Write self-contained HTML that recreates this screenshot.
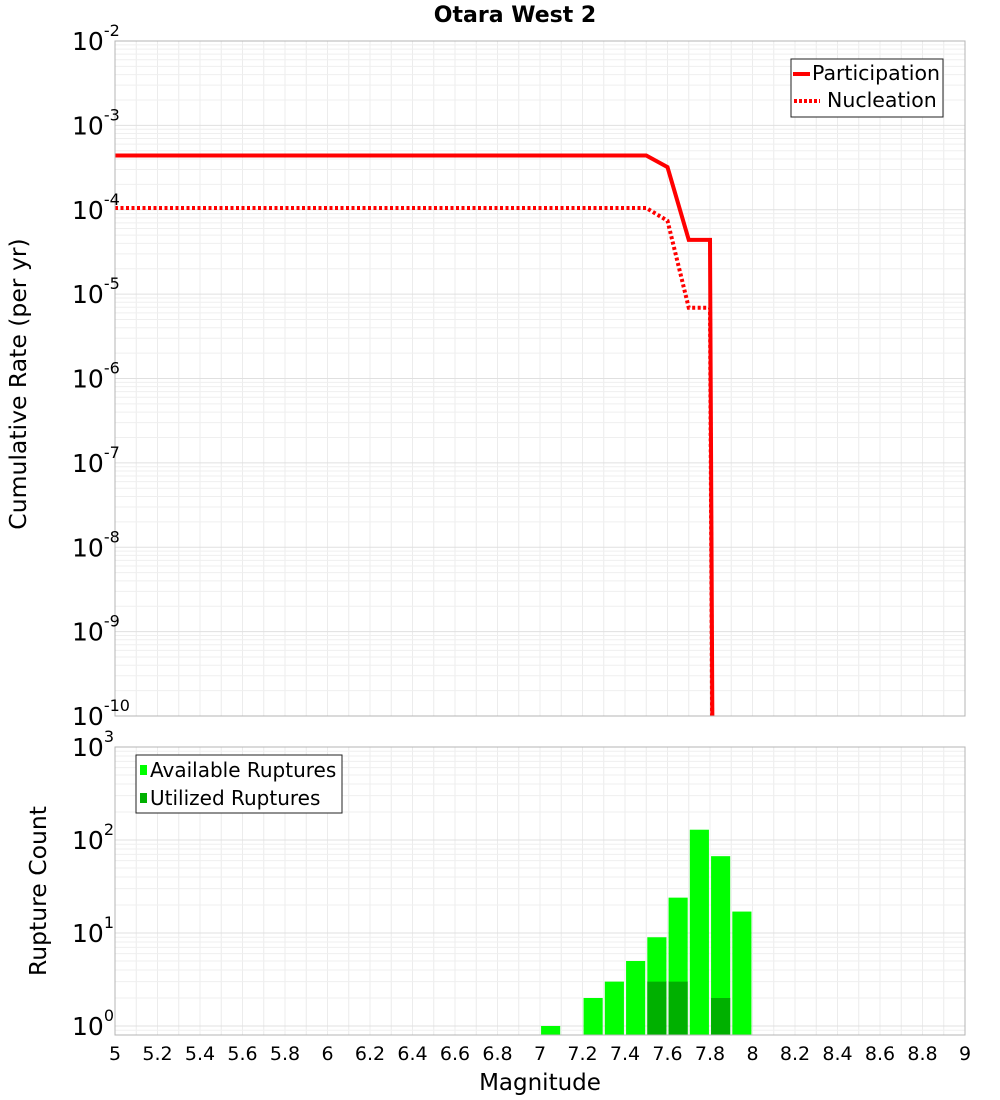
<!DOCTYPE html>
<html><head><meta charset="utf-8"><style>
html,body{margin:0;padding:0;background:#fff;}
svg{display:block;font-family:"DejaVu Sans","Liberation Sans",sans-serif;}
</style></head><body>
<svg id="chart" width="1000" height="1100" xmlns="http://www.w3.org/2000/svg">
<text x="515" y="22" text-anchor="middle" font-size="22" font-weight="bold">Otara West 2</text>
<g id="top-grid"></g>
<g id="bot-grid"></g>
<g id="top-series"></g>
<g id="bot-bars"></g>
<rect x="115" y="41" width="850" height="675" fill="none" stroke="#b4b4b4" stroke-width="1"/>
<rect x="115" y="747" width="850" height="288" fill="none" stroke="#b4b4b4" stroke-width="1"/>
<g id="axes-labels"></g>
<text transform="translate(26,384) rotate(-90)" text-anchor="middle" font-size="23.5">Cumulative Rate (per yr)</text>
<text transform="translate(46,891) rotate(-90)" text-anchor="middle" font-size="23.5">Rupture Count</text>
<text x="540" y="1090" text-anchor="middle" font-size="23">Magnitude</text>
<g>
<rect x="791" y="59" width="152" height="58" fill="#fff" stroke="#222" stroke-width="1"/>
<line x1="793" y1="74" x2="810" y2="74" stroke="#ff0000" stroke-width="4"/>
<text x="812" y="80" font-size="20.5">Participation</text>
<line x1="794" y1="101" x2="820" y2="101" stroke="#ff0000" stroke-width="4" stroke-dasharray="3,2"/>
<text x="827" y="107" font-size="20.5">Nucleation</text>
</g>
<g>
<rect x="136" y="755" width="206" height="58" fill="#fff" stroke="#222" stroke-width="1"/>
<rect x="140" y="765" width="7" height="10" fill="#00ff00"/>
<text x="150" y="777" font-size="20">Available Ruptures</text>
<rect x="140" y="793" width="7" height="10" fill="#00b000"/>
<text x="150" y="805" font-size="20">Utilized Ruptures</text>
</g>
</svg>
<script>
const partMags=[5.0,7.5,7.6,7.7,7.8,7.85];
const partRates=[4.4e-4,4.4e-4,3.2e-4,4.4e-5,4.4e-5,1e-30];
const nuclMags=[5.0,7.5,7.6,7.7,7.8,7.85];
const nuclRates=[1.05e-4,1.05e-4,7.4e-5,6.9e-6,6.9e-6,1e-30];
const binMags=[7.05,7.25,7.35,7.45,7.55,7.65,7.75,7.85,7.95];
const availCounts=[1,2,3,5,9,24,129,67,17];
const utilMags=[7.55,7.65,7.85];
const utilCounts=[3,3,2];
const xTicks=[5,5.2,5.4,5.6,5.8,6,6.2,6.4,6.6,6.8,7,7.2,7.4,7.6,7.8,8,8.2,8.4,8.6,8.8,9];
const topDecades=[-2,-3,-4,-5,-6,-7,-8,-9,-10];
const botDecades=[0,1,2,3];

const NS="http://www.w3.org/2000/svg";
const X=m=>115+(m-5)*212.5;
const Yt=v=>41+(-2-Math.log10(v))*84.375;
const Yb=v=>1026-Math.log10(v)*93;
function mk(tag,attrs,parent){const e=document.createElementNS(NS,tag);for(const k in attrs)e.setAttribute(k,attrs[k]);parent.appendChild(e);return e;}
const tg=document.getElementById('top-grid'),bg=document.getElementById('bot-grid');
for(let m=5;m<=9.001;m+=0.1){
  const x=X(m);
  let l=mk('line',{x1:x,x2:x,y1:41,y2:716,stroke:'#ececec'},tg);
  
  
  l=mk('line',{x1:x,x2:x,y1:747,y2:1035,stroke:'#ececec'},bg);
  
  
}
for(let d=-10;d<-2;d++){for(let k=1;k<10;k++){const y=Yt(k*Math.pow(10,d));
  const l=mk('line',{x1:115,x2:965,y1:y,y2:y,stroke:k==1?'#e0e0e0':'#efefef'},tg);
  
  }}
for(let d=-1;d<3;d++){for(let k=1;k<10;k++){const y=Yb(k*Math.pow(10,d));if(y>1035||y<747)continue;
  const l=mk('line',{x1:115,x2:965,y1:y,y2:y,stroke:k==1?'#e0e0e0':'#efefef'},bg);
  
  }}
const defs=mk('defs',{},document.getElementById('chart'));
const cp=mk('clipPath',{id:'ct'},defs);mk('rect',{x:115,y:41,width:850,height:675},cp);
const cb=mk('clipPath',{id:'cb'},defs);mk('rect',{x:115,y:747,width:850,height:288},cb);
const ts=document.getElementById('top-series');ts.setAttribute('clip-path','url(#ct)');
let p=mk('polyline',{points:partMags.map((m,i)=>X(m)+','+Yt(partRates[i])).join(' '),fill:'none',stroke:'#ff0000','stroke-width':4},ts);


p=mk('polyline',{points:nuclMags.map((m,i)=>X(m)+','+Yt(nuclRates[i])).join(' '),fill:'none',stroke:'#ff0000','stroke-width':4,'stroke-dasharray':'3,2.5'},ts);


const bb=document.getElementById('bot-bars');bb.setAttribute('clip-path','url(#cb)');
const bw=0.09*212.5;
binMags.forEach((m,i)=>{const y=Yb(availCounts[i]);
  const r=mk('rect',{x:X(m)-bw/2,y:y,width:bw,height:1035-y,fill:'#00ff00'},bb);
  
  });
utilMags.forEach((m,i)=>{const y=Yb(utilCounts[i]);
  const r=mk('rect',{x:X(m)-bw/2,y:y,width:bw,height:1035-y,fill:'#00b000'},bb);
  
  });
const al=document.getElementById('axes-labels');
xTicks.forEach(m=>{const t=mk('text',{x:X(m),y:1060,'text-anchor':'middle','font-size':19},al);t.textContent=String(m);
  
  });
function pow(y,e,parent){const t=mk('text',{x:72,y:y+9,'font-size':25},parent);
  
  
  const a=mk('tspan',{},t);a.textContent='10';
  const b=mk('tspan',{dy:-14,'font-size':16},t);b.textContent=String(e);}
topDecades.forEach(d=>pow(Yt(Math.pow(10,d)),d,al));
botDecades.forEach(d=>pow(Yb(Math.pow(10,d)),d,al));
</script>
</body></html>
